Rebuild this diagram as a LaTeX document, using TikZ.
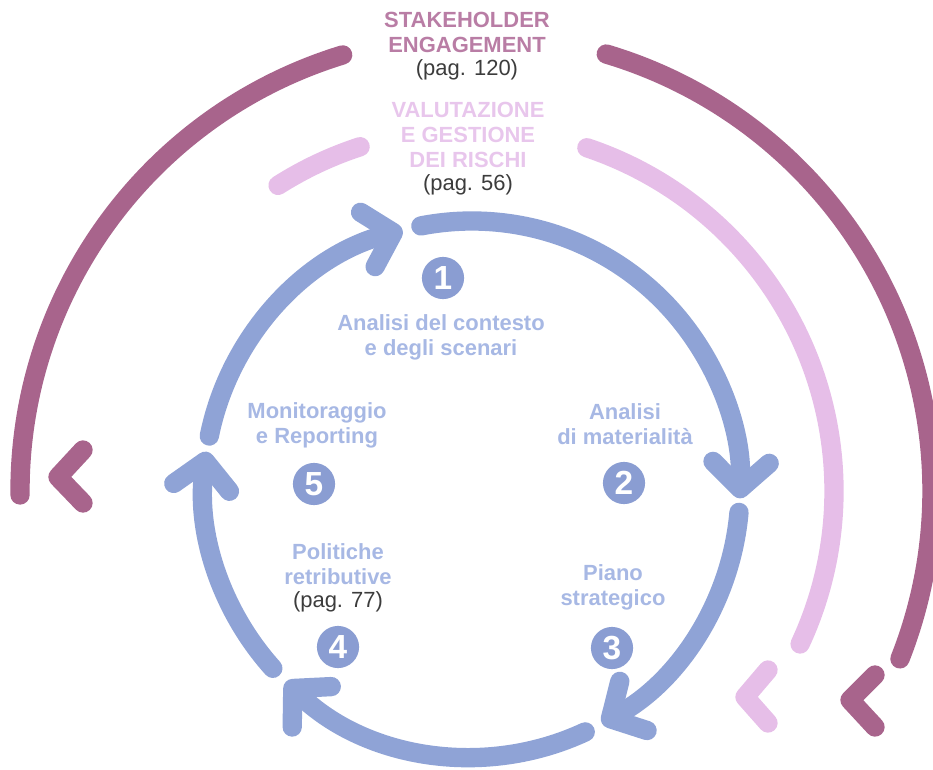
\documentclass[tikz,border=0pt]{standalone}
\usepackage{fontspec}
\setmainfont{Liberation Sans}
\usetikzlibrary{arrows.meta}
\definecolor{cyclebl}{HTML}{8FA3D6}
\definecolor{numbl}{HTML}{8A9DD2}
\definecolor{labbl}{HTML}{A7B8E4}
\definecolor{mauve}{HTML}{A8648C}
\definecolor{mauvetxt}{HTML}{B97DA5}
\definecolor{lilac}{HTML}{E6BEE8}
\definecolor{lilactxt}{HTML}{E8C6EC}
\definecolor{pagtxt}{HTML}{3C3C3C}
\begin{document}
\begin{tikzpicture}[x=0.02cm,y=0.02cm,line cap=round,line join=round]
      \tikzstyle{ring}=[line width=11pt]
      \tikzstyle{cyc}=[ring,draw=cyclebl,-{Straight Barb[length=15pt,width=32pt,round]}]
      \tikzstyle{num}=[circle,fill=numbl,text=white,minimum size=24pt,inner sep=0pt,font=\bfseries\fontsize{19}{19}\selectfont]
      \tikzstyle{lab}=[align=center,text=labbl,font=\bfseries\fontsize{12.5}{14.2}\selectfont]
      \tikzstyle{head}=[align=center,font=\bfseries\fontsize{12.5}{14.2}\selectfont]
      \useasboundingbox (0,0) rectangle (933,769);
      \coordinate (ctr) at (472,280);
      \coordinate (ctr_mid) at (472,278);
      \coordinate (ctr_out) at (476,278);
      % outer rings
      \draw[ring,mauve] ([shift={(107:456)}]ctr_out) arc[start angle=107,end angle=180.5,radius=456];
      \draw[ring,mauve] ([shift={(73.4:456)}]ctr_out) arc[start angle=73.4,end angle=-21.6,radius=456];
      \draw[ring,lilac] ([shift={(108:362)}]ctr_mid) arc[start angle=108,end angle=122.4,radius=362];
      \draw[ring,lilac] ([shift={(71.5:362)}]ctr_mid) arc[start angle=71.5,end angle=-25,radius=362];
      \draw[ring,mauve] (83,319) -- (58,292) -- (83,266);
      \draw[ring,lilac] (768,99) -- (745,72) -- (768,46);
      \draw[ring,mauve] (875,94) -- (850,69) -- (875,42);
      % cycle
      \draw[cyc] ([shift={(101:268)}]ctr) arc[start angle=101,end angle=-2,radius=268];
      \draw[cyc] ([shift={(-5:268)}]ctr) arc[start angle=-5,end angle=-61,radius=268];
      \draw[cyc] ([shift={(-65:268)}]ctr) arc[start angle=-65,end angle=-134,radius=268];
      \draw[cyc] ([shift={(-138:268)}]ctr) arc[start angle=-138,end angle=-188,radius=268];
      \draw[cyc] ([shift={(168.6:268)}]ctr) arc[start angle=168.6,end angle=105,radius=268];
      % titles
      \node[head,text=mauvetxt] (stake) at (467,723) {STAKEHOLDER\\ENGAGEMENT\\[-1pt]{\color{pagtxt}\mdseries (pag. 120)}};
      \node[head,text=lilactxt] (risk) at (468,620) {VALUTAZIONE\\E GESTIONE\\DEI RISCHI\\[-1pt]{\color{pagtxt}\mdseries (pag. 56)}};
      % steps
      \node[num] (n_1) at (443,491) {1};
      \node[num] (n_2) at (624,286) {2};
      \node[num] (n_3) at (612,121) {3};
      \node[num] (n_4) at (338,122) {4};
      \node[num] (n_5) at (314,285) {5};
      \node[lab] (l_1) at (441,432) {Analisi del contesto\\e degli scenari};
      \node[lab] (l_2) at (625,345) {Analisi\\di materialità};
      \node[lab] (l_3) at (613,182) {Piano\\strategico};
      \node[lab] (l_4) at (338,191) {Politiche\\retributive\\[-1pt]{\color{pagtxt}\mdseries (pag. 77)}};
      \node[lab] (l_5) at (317,344) {Monitoraggio\\e Reporting};
    \end{tikzpicture}
\end{document}
